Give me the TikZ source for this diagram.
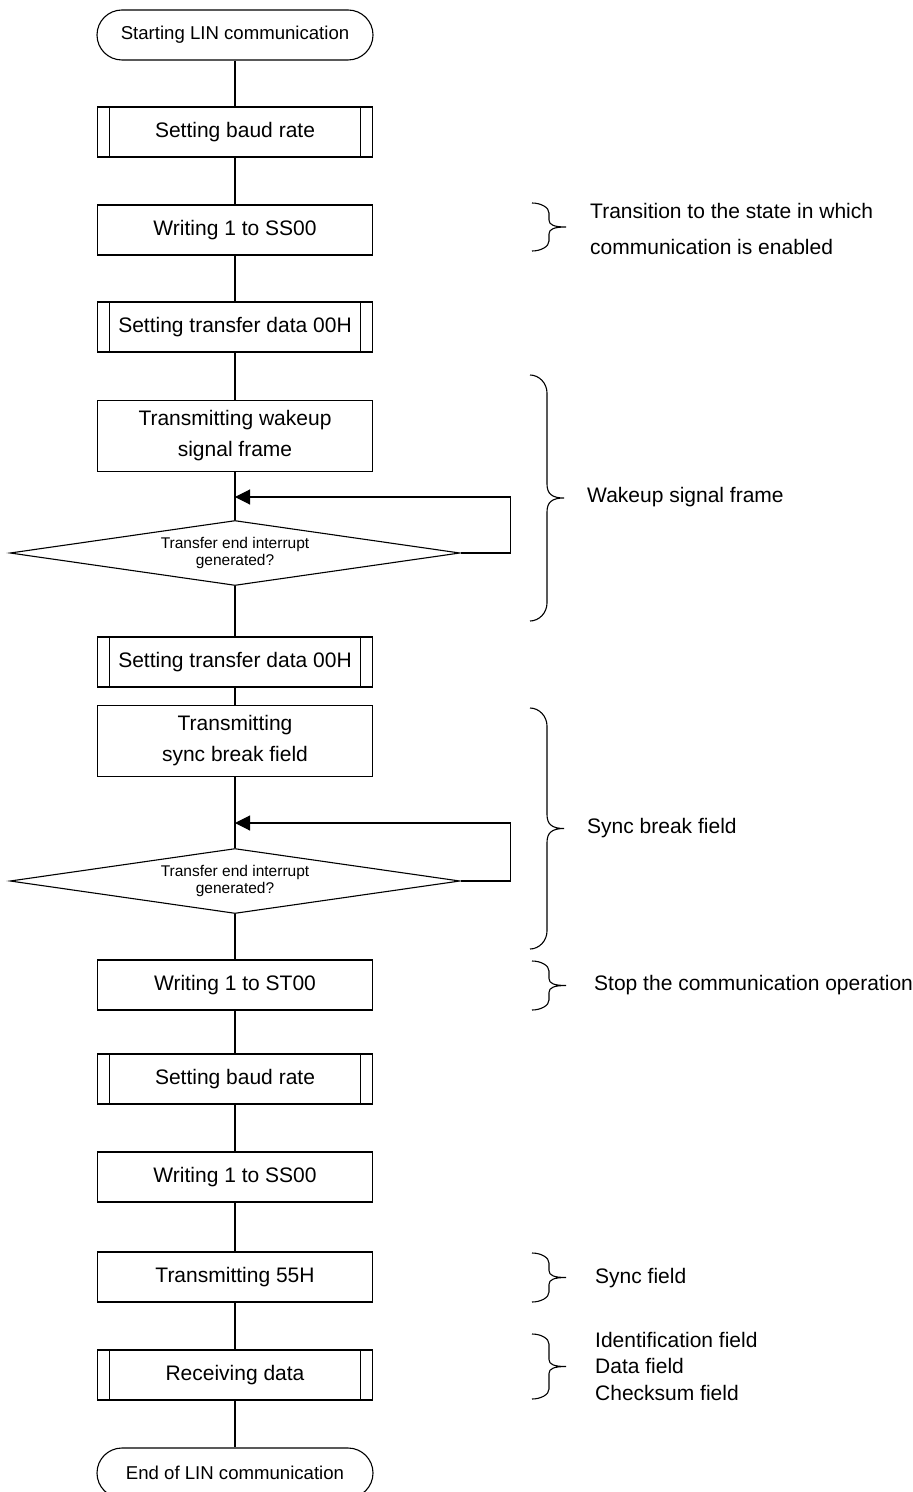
\documentclass[tikz,border=0pt]{standalone}
\usepackage{fontspec}
\setmainfont{Liberation Sans}
\usetikzlibrary{shapes.geometric,arrows.meta}

\begin{document}
\begin{tikzpicture}[
        x=0.5pt, y=-0.5pt, line width=0.55pt,
        every node/.style={font=\fontsize{10.5}{15.5}\selectfont},
        terminal/.style={rectangle, draw, rounded corners=12.5pt, minimum width=138pt, minimum height=25pt, inner sep=0pt, font=\fontsize{9.3}{11}\selectfont},
        process/.style={rectangle, draw, minimum width=137.5pt, minimum height=25pt, align=center},
        tallprocess/.style={process, minimum height=35.5pt},
        subproc/.style={process, path picture={
            \draw ([xshift=6pt]path picture bounding box.north west) -- ([xshift=6pt]path picture bounding box.south west);
            \draw ([xshift=-6pt]path picture bounding box.north east) -- ([xshift=-6pt]path picture bounding box.south east);}},
        decision/.style={diamond, draw, shape aspect=7, minimum width=225pt, minimum height=32.5pt, inner sep=0pt, align=center, font=\fontsize{7.75}{8.5}\selectfont},
        arrow/.style={-{Triangle[length=7.5pt,width=7.5pt]}},
        pics/notebrace/.style n args={3}{code={
            \draw (0,0) .. controls (9,0) and (17,{0.45*#2}) .. (17,#2)
                -- (17,{#1/2-#3}) .. controls (17,{#1/2-0.3*#3}) and (22,#1/2) .. (34,#1/2)
                .. controls (22,#1/2) and (17,{#1/2+0.3*#3}) .. (17,{#1/2+#3})
                -- (17,{#1-#2}) .. controls (17,{#1-0.45*#2}) and (9,#1) .. (0,#1);}},
        note/.style={anchor=west, align=left}
    ]
        \useasboundingbox (0,0) rectangle (913,1492);

        % flow
        \node[terminal] (start) at (235,35) {Starting LIN communication};
        \node[subproc] (baud1) at (235,132) {Setting baud rate};
        \node[process] (ss1) at (235,230) {Writing 1 to SS00};
        \node[subproc] (data1) at (235,327) {Setting transfer data 00H};
        \node[tallprocess] (wake) at (235,436) {Transmitting wakeup\\signal frame};
        \node[decision] (wait1) at (235,553) {Transfer end interrupt\\generated?};
        \node[subproc] (data2) at (235,662) {Setting transfer data 00H};
        \node[tallprocess] (brk) at (235,741) {Transmitting\\sync break field};
        \node[decision] (wait2) at (235,881) {Transfer end interrupt\\generated?};
        \node[process] (st) at (235,985) {Writing 1 to ST00};
        \node[subproc] (baud2) at (235,1079) {Setting baud rate};
        \node[process] (ss2) at (235,1177) {Writing 1 to SS00};
        \node[process] (sync) at (235,1277) {Transmitting 55H};
        \node[subproc] (recv) at (235,1375) {Receiving data};
        \node[terminal] (stop) at (235,1473) {End of LIN communication};

        \draw (start) -- (baud1);
        \draw (baud1) -- (ss1);
        \draw (ss1) -- (data1);
        \draw (data1) -- (wake);
        \draw (wake) -- (wait1);
        \draw (wait1) -- (data2);
        \draw (data2) -- (brk);
        \draw (brk) -- (wait2);
        \draw (wait2) -- (st);
        \draw (st) -- (baud2);
        \draw (baud2) -- (ss2);
        \draw (ss2) -- (sync);
        \draw (sync) -- (recv);
        \draw (recv) -- (stop);

        % wait loops
        \coordinate (back1) at (235,497);
        \coordinate (back2) at (235,823);
        \draw[arrow] (wait1.east) -- ++(50,0) |- (back1);
        \draw[arrow] (wait2.east) -- ++(50,0) |- (back2);

        % notes
        \pic at (532,203) {notebrace={48}{10}{7}};
        \pic at (530,375) {notebrace={246}{18}{14}};
        \pic at (530,708) {notebrace={241}{18}{14}};
        \pic at (532,961) {notebrace={49}{10}{7}};
        \pic at (532,1253) {notebrace={49}{10}{7}};
        \pic at (532,1334) {notebrace={65}{10}{7}};

        \node[note, font=\fontsize{10.5}{18}\selectfont] (enable) at (583,229) {Transition to the state in which\\communication is enabled};
        \node[note] (wakenote) at (580,497) {Wakeup signal frame};
        \node[note] (brknote) at (580,828) {Sync break field};
        \node[note] (stopnote) at (587,985) {Stop the communication operation};
        \node[note] (syncnote) at (588,1278) {Sync field};
        \node[note, font=\fontsize{10.5}{13.25}\selectfont] (fields) at (588,1366) {Identification field\\Data field\\Checksum field};
    \end{tikzpicture}
\end{document}
